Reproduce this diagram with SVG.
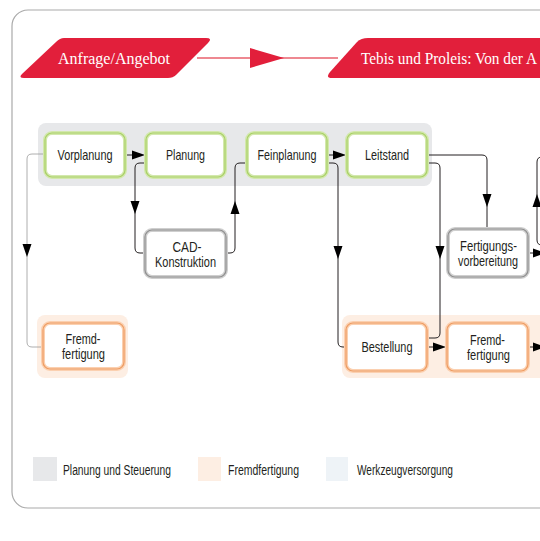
<svg xmlns="http://www.w3.org/2000/svg" xmlns:xlink="http://www.w3.org/1999/xlink" width="540" height="541" viewBox="0 0 540 541">
<style>
.t{font-family:"Liberation Sans",Arial,sans-serif;font-size:14.5px;fill:#231f20;text-anchor:middle}
.lg{font-family:"Liberation Sans",Arial,sans-serif;font-size:14px;fill:#231f20}
.ban{font-family:"Liberation Serif",serif;font-size:16px;fill:#fff}
.gO{fill:#fff;stroke:#d3e8ad;stroke-width:4}
.gI{fill:none;stroke:#a9d066;stroke-width:1.2}
.oO{fill:#fff;stroke:#fbd0b0;stroke-width:4}
.oI{fill:none;stroke:#ee9c62;stroke-width:1.2}
.yO{fill:#fff;stroke:#cfcfcf;stroke-width:4}
.yI{fill:none;stroke:#8f8f8f;stroke-width:1.2}
.c{fill:none;stroke:#231f20;stroke-width:1}
.cg{fill:none;stroke:#9a9a9a;stroke-width:0.8}
.ah{fill:#000}
</style>
<defs>
<path id="ah" d="M0,0 L-13,-4.5 L-13,4.5 Z"/>
</defs>
<rect x="12" y="10" width="600" height="498" rx="16" fill="#fff" stroke="#aaa" stroke-width="1.2"/>
<g id="banners">
<path d="M64,38 H206 Q213,38 208,43 L176,75 Q173,78 168,78 H24 Q18,78 22,74 L56,42 Q60,38 64,38 Z" fill="#e21f3b"/>
<text class="ban" x="114" y="64" text-anchor="middle">Anfrage/Angebot</text>
<path d="M368,38 H560 V78 H332 Q325,78 330,72 L357,42 Q361,38 368,38 Z" fill="#e21f3b"/>
<text class="ban" x="361" y="64" textLength="176" lengthAdjust="spacingAndGlyphs">Tebis und Proleis: Von der A</text>
<line x1="197" y1="58" x2="338" y2="58" stroke="#e8606c" stroke-width="1.5"/>
<path d="M250,48 L284,58 L250,68 Z" fill="#e21f3b"/>
</g>
<g id="groups">
<rect x="38" y="123" width="394" height="63" rx="8" fill="#e7e8ea"/>
<rect x="37" y="315" width="91" height="63" rx="8" fill="#fdeee3"/>
<rect x="342" y="315" width="220" height="63" rx="8" fill="#fdeee3"/>
</g>
<g id="connectors">
<path class="c" d="M126,155 H140"/>
<use href="#ah" class="ah" transform="translate(145,155)"/>
<path class="c" d="M146,163 H140 Q135,163 135,168 V248 Q135,253 140,253 H145"/>
<use href="#ah" class="ah" transform="translate(135,214) rotate(90)"/>
<path class="c" d="M226,253 H230 Q235,253 235,248 V168 Q235,163 240,163 H247"/>
<use href="#ah" class="ah" transform="translate(235,201) rotate(-90)"/>
<path class="c" d="M328,155 H342"/>
<use href="#ah" class="ah" transform="translate(346,155)"/>
<path class="c" d="M327,163 H333 Q338,163 338,168 V342 Q338,347 343,347 H346"/>
<use href="#ah" class="ah" transform="translate(338,259) rotate(90)"/>
<path class="c" d="M427,163 H435 Q440,163 440,168 V333 Q440,338 435,338 H428"/>
<use href="#ah" class="ah" transform="translate(440,259) rotate(90)"/>
<path class="c" d="M427,155 H482 Q487,155 487,160 V229"/>
<use href="#ah" class="ah" transform="translate(487,207) rotate(90)"/>
<path class="c" d="M428,347 H442"/>
<use href="#ah" class="ah" transform="translate(446,347)"/>
<path class="cg" d="M45,154 H32 Q27,154 27,159 V342 Q27,347 32,347 H43"/>
<use href="#ah" class="ah" transform="translate(27,257) rotate(90)"/>
<path class="c" d="M528,253 H540"/>
<use href="#ah" class="ah" transform="translate(546,253)"/>
<path class="c" d="M528,347 H540"/>
<use href="#ah" class="ah" transform="translate(546,347)"/>
<path class="c" d="M548,157 H542 Q537,157 537,162 V240 Q537,245 542,245 H548"/>
<use href="#ah" class="ah" transform="translate(537,194) rotate(-90)"/>
</g>
<g id="vorplanung"><rect class="gO" x="45" y="133" width="80" height="44" rx="7"/><rect class="gI" x="45" y="133" width="80" height="44" rx="7"/><text class="t" x="85" y="160" textLength="55" lengthAdjust="spacingAndGlyphs">Vorplanung</text></g>
<g id="planung"><rect class="gO" x="146" y="133" width="79" height="44" rx="7"/><rect class="gI" x="146" y="133" width="79" height="44" rx="7"/><text class="t" x="185.5" y="160" textLength="39" lengthAdjust="spacingAndGlyphs">Planung</text></g>
<g id="feinplanung"><rect class="gO" x="247" y="133" width="80" height="44" rx="7"/><rect class="gI" x="247" y="133" width="80" height="44" rx="7"/><text class="t" x="287" y="160" textLength="59" lengthAdjust="spacingAndGlyphs">Feinplanung</text></g>
<g id="leitstand"><rect class="gO" x="347" y="133" width="80" height="44" rx="7"/><rect class="gI" x="347" y="133" width="80" height="44" rx="7"/><text class="t" x="387" y="160" textLength="44" lengthAdjust="spacingAndGlyphs">Leitstand</text></g>
<g id="cad"><rect class="yO" x="145" y="230" width="81" height="47" rx="7"/><rect class="yI" x="145" y="230" width="81" height="47" rx="7"/><text class="t" x="187" y="252" textLength="29" lengthAdjust="spacingAndGlyphs">CAD-</text><text class="t" x="185.5" y="267" textLength="61" lengthAdjust="spacingAndGlyphs">Konstruktion</text></g>
<g id="fertigungsvorbereitung"><rect class="yO" x="448" y="229" width="80" height="48" rx="7"/><rect class="yI" x="448" y="229" width="80" height="48" rx="7"/><text class="t" x="488.5" y="251" textLength="57" lengthAdjust="spacingAndGlyphs">Fertigungs-</text><text class="t" x="488" y="266" textLength="60" lengthAdjust="spacingAndGlyphs">vorbereitung</text></g>
<g id="fremdfertigung1"><rect class="oO" x="43" y="323" width="81" height="46" rx="7"/><rect class="oI" x="43" y="323" width="81" height="46" rx="7"/><text class="t" x="83" y="344" textLength="35" lengthAdjust="spacingAndGlyphs">Fremd-</text><text class="t" x="83.5" y="359" textLength="43" lengthAdjust="spacingAndGlyphs">fertigung</text></g>
<g id="bestellung"><rect class="oO" x="346" y="323" width="81" height="48" rx="7"/><rect class="oI" x="346" y="323" width="81" height="48" rx="7"/><text class="t" x="387" y="352" textLength="51" lengthAdjust="spacingAndGlyphs">Bestellung</text></g>
<g id="fremdfertigung2"><rect class="oO" x="447" y="323" width="81" height="48" rx="7"/><rect class="oI" x="447" y="323" width="81" height="48" rx="7"/><text class="t" x="487.5" y="345" textLength="35" lengthAdjust="spacingAndGlyphs">Fremd-</text><text class="t" x="488.5" y="360" textLength="43" lengthAdjust="spacingAndGlyphs">fertigung</text></g>
<g id="legend">
<rect x="33" y="457" width="24" height="24" fill="#e7e8ea"/>
<text class="lg" x="63" y="475" textLength="108" lengthAdjust="spacingAndGlyphs">Planung und Steuerung</text>
<rect x="198" y="457" width="23" height="24" fill="#fdeee3"/>
<text class="lg" x="228" y="475" textLength="71" lengthAdjust="spacingAndGlyphs">Fremdfertigung</text>
<rect x="326" y="457" width="22" height="24" fill="#eef3f7"/>
<text class="lg" x="357" y="475" textLength="96" lengthAdjust="spacingAndGlyphs">Werkzeugversorgung</text>
</g>
</svg>
